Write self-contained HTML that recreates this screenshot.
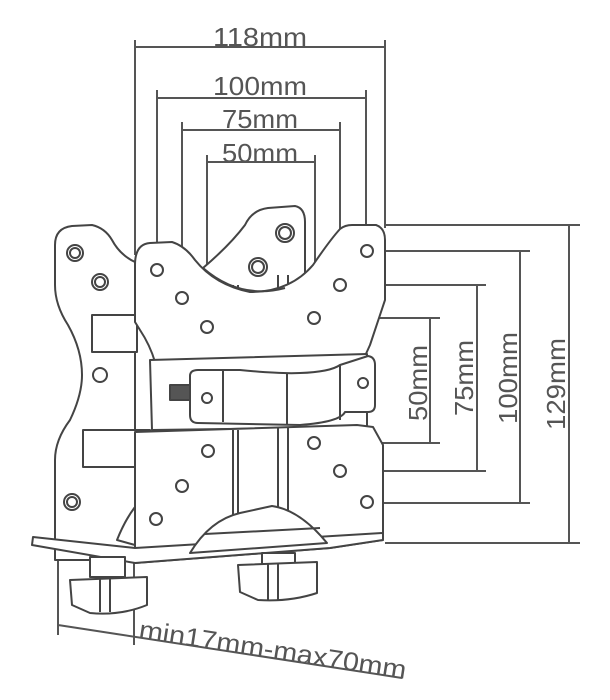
<!DOCTYPE html>
<html><head><meta charset="utf-8"><style>html,body{margin:0;padding:0;background:#fff}svg{display:block}</style></head>
<body>
<svg width="610" height="700" viewBox="0 0 610 700" xmlns="http://www.w3.org/2000/svg">
<g stroke="#555" stroke-width="2" fill="none">
<path d="M135 40V255 M385 40V228 M135 47H385"/>
<path d="M157 90V266 M366 90V246 M157 98H366"/>
<path d="M182 122V293 M340 122V281 M182 130H340"/>
<path d="M207 155V322 M315 155V313 M207 162H315"/>
<path d="M385 225H580 M569 225V543 M385 543H580"/>
<path d="M372 251H530 M520 251V503 M372 503H530"/>
<path d="M345 285H486 M477 285V471 M345 471H486"/>
<path d="M319 318H440 M430 318V443 M319 443H440"/>
<path d="M58 545V635 M134 560V645 M58 625L402 678"/>
</g>
<g stroke="#444" stroke-width="2" fill="#fff" stroke-linejoin="round">
<path d="M55 245Q55 228 72 226L92 225Q105 228 112 240Q120 255 135 262V560H55V460Q55 440 70 420Q82 395 82 375Q82 350 68 325Q55 305 55 285Z"/>
<rect x="92" y="315" width="45" height="37"/>
<path d="M203 268Q230 245 245 225Q252 210 268 208L295 206Q305 208 305 222V300H203Z"/>
<path d="M233 285V555 M238 285V555 M278 275V555 M288 275V555" fill="none"/>
<path d="M135 265Q135 244 150 243L172 242Q185 246 195 260Q215 285 250 292Q290 292 313 265Q330 240 340 229Q345 225 352 225L376 225Q385 228 385 240V300L370 345L365 356L155 362Q150 345 140 330L135 322Z"/>
<path d="M203 268Q240 300 285 288" fill="none"/>
<path d="M150 360L367 354V427L152 430Z"/>
<rect x="83" y="430" width="67" height="37"/>
<path d="M190 376Q190 370 198 370L240 370Q280 374 300 373Q330 372 340 365L368 356Q375 357 375 365V405Q375 412 368 412L345 412Q340 422 300 425L198 423Q190 423 190 415Z"/>
<path d="M223 370V422 M287 373V425 M340 365V420" fill="none"/>
<path d="M170 385H190V400H170Z" fill="#555"/>
<path d="M135 432L357 425L373 427L383 445V540L330 548L135 563Z"/>
<path d="M233 430V545 M238 430V545 M278 427V545 M288 427V545" fill="none"/>
<path d="M33 537L135 548L383 533V540L330 548L135 563L32 545Z"/>
<path d="M190 553Q210 520 240 513L272 506Q300 510 327 543Z"/>
<path d="M205 534L320 528" fill="none"/>
<path d="M117 540Q125 520 135 507V545Z"/>
<rect x="90" y="557" width="35" height="20"/>
<path d="M70 580L147 577V605Q120 616 90 613L72 605Z"/>
<path d="M100 578V612 M110 578V612" fill="none"/>
<rect x="262" y="553" width="33" height="11"/>
<path d="M238 565L317 562V593Q290 602 258 600L240 592Z"/>
<path d="M268 564V600 M278 564V600" fill="none"/>
</g>
<g stroke="#444" stroke-width="2" fill="#fff">
<circle cx="75" cy="253" r="8"/><circle cx="75" cy="253" r="5"/>
<circle cx="100" cy="282" r="8"/><circle cx="100" cy="282" r="5"/>
<circle cx="100" cy="375" r="7"/>
<circle cx="72" cy="502" r="8"/><circle cx="72" cy="502" r="5"/>
<circle cx="285" cy="233" r="9"/><circle cx="285" cy="233" r="6"/>
<circle cx="258" cy="267" r="9"/><circle cx="258" cy="267" r="6"/>
<circle cx="157" cy="270" r="6"/><circle cx="182" cy="298" r="6"/><circle cx="207" cy="327" r="6"/>
<circle cx="367" cy="251" r="6"/><circle cx="340" cy="285" r="6"/><circle cx="314" cy="318" r="6"/>
<circle cx="314" cy="443" r="6"/><circle cx="340" cy="471" r="6"/><circle cx="367" cy="502" r="6"/>
<circle cx="208" cy="451" r="6"/><circle cx="182" cy="486" r="6"/><circle cx="156" cy="519" r="6"/>
<circle cx="207" cy="398" r="5"/><circle cx="363" cy="383" r="5"/>
</g>
<g font-family="Liberation Sans, sans-serif" font-size="26" fill="#555">
<text x="213" y="46" textLength="94" lengthAdjust="spacingAndGlyphs">118mm</text>
<text x="213" y="95" textLength="94" lengthAdjust="spacingAndGlyphs">100mm</text>
<text x="222" y="128" textLength="76" lengthAdjust="spacingAndGlyphs">75mm</text>
<text x="222" y="162" textLength="76" lengthAdjust="spacingAndGlyphs">50mm</text>
<text transform="translate(427,421) rotate(-90)" textLength="76" lengthAdjust="spacingAndGlyphs">50mm</text>
<text transform="translate(473,416) rotate(-90)" textLength="76" lengthAdjust="spacingAndGlyphs">75mm</text>
<text transform="translate(517,424) rotate(-90)" textLength="92" lengthAdjust="spacingAndGlyphs">100mm</text>
<text transform="translate(565,430) rotate(-90)" textLength="92" lengthAdjust="spacingAndGlyphs">129mm</text>
<text transform="translate(138,638) rotate(8.7)" textLength="270" lengthAdjust="spacingAndGlyphs">min17mm-max70mm</text>
</g>
</svg>
</body></html>
